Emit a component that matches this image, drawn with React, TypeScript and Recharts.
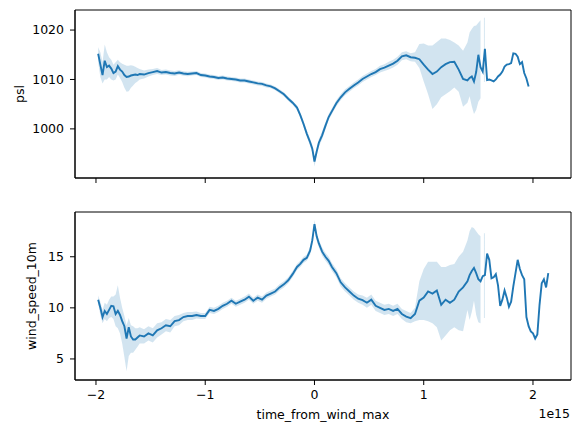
import React from 'react';
import { ComposedChart, Line, Area, XAxis, YAxis, CartesianGrid } from 'recharts';

// time_from_wind_max (in units of 1e15)
const timeSteps = [
  -1.98, -1.96, -1.94, -1.92, -1.9, -1.88, -1.86, -1.84, -1.82, -1.8, -1.78, -1.76, -1.74, -1.72, -1.7, -1.68, -1.66, -1.64, -1.62, -1.6,
  -1.56, -1.52, -1.48, -1.44, -1.4, -1.36, -1.32, -1.28, -1.24, -1.2, -1.16, -1.12, -1.08, -1.04, -1.0, -0.96, -0.92, -0.88, -0.84, -0.8,
  -0.76, -0.72, -0.68, -0.64, -0.6, -0.56, -0.52, -0.48, -0.44, -0.4, -0.36, -0.32, -0.28, -0.24, -0.2, -0.16,
  -0.13, -0.1, -0.07, -0.04, -0.02, 0, 0.02, 0.04, 0.07, 0.1, 0.13,
  0.16, 0.2, 0.24, 0.28, 0.32, 0.36, 0.4, 0.44, 0.48, 0.52, 0.56, 0.6, 0.64, 0.68, 0.72, 0.76, 0.8, 0.84, 0.88, 0.92, 0.96, 1.0,
  1.04, 1.08, 1.12, 1.16, 1.2, 1.24, 1.28, 1.32, 1.36, 1.4,
  1.42, 1.44, 1.46, 1.48, 1.5, 1.52, 1.54, 1.56, 1.58, 1.6, 1.62, 1.64, 1.66, 1.68, 1.7, 1.72, 1.74, 1.76, 1.78, 1.8,
  1.82, 1.84, 1.86, 1.88, 1.9, 1.92, 1.94, 1.96, 1.98, 2.0, 2.02, 2.04, 2.06, 2.08, 2.1, 2.12, 2.14,
];

const pslMean = [
  1015.2, 1013.0, 1010.9, 1013.8, 1012.5, 1012.8, 1012.2, 1011.3, 1011.6, 1012.7, 1012.0, 1011.6, 1010.9, 1010.5, 1010.6, 1010.8, 1010.9, 1011.0, 1010.9, 1011.1,
  1011.0, 1011.3, 1011.5, 1011.7, 1011.4, 1011.5, 1011.3, 1011.2, 1011.4, 1011.2, 1011.1, 1011.2, 1011.3, 1010.9, 1010.8, 1010.6, 1010.5, 1010.3, 1010.4, 1010.2,
  1010.1, 1010.0, 1009.8, 1009.8, 1009.6, 1009.4, 1009.2, 1009.1, 1008.8, 1008.6, 1008.2, 1007.6, 1007.0, 1006.1, 1005.3, 1004.3,
  1002.8, 1001.0, 999.0, 997.3, 996.0, 993.4, 995.4, 997.2, 998.7, 1000.6, 1002.4,
  1003.6, 1005.2, 1006.4, 1007.4, 1008.1, 1008.8, 1009.4, 1010.1, 1010.6, 1011.1, 1011.5, 1012.1, 1012.4, 1012.8, 1013.2, 1013.8, 1014.7, 1014.9, 1014.5, 1014.4, 1014.1, 1013.0,
  1012.0, 1011.1, 1011.6, 1012.5, 1013.1, 1013.5, 1013.6, 1012.0, 1010.1, 1009.8,
  1010.3, 1010.6, 1009.6, 1011.5, 1015.0, 1012.5, 1011.6, 1016.2, 1009.9, 1010.0, 1009.8, 1009.6, 1010.0, 1010.6, 1011.0, 1011.6, 1012.6, 1013.0, 1013.1, 1013.3,
  1015.3, 1015.2, 1014.6, 1013.1, 1013.5, 1011.3, 1010.2, 1008.6, null, null, null, null, null, null, null, null, null,
];

const pslLow = [
  1013.5, 1010.5, 1009.2, 1010.0, 1010.0, 1010.5, 1010.0, 1009.8, 1010.0, 1011.0, 1010.3, 1009.5, 1008.3, 1007.5, 1007.6, 1008.3, 1008.8, 1009.3, 1009.6, 1010.0,
  1010.2, 1010.6, 1010.9, 1011.1, 1010.9, 1011.0, 1010.8, 1010.7, 1010.95, 1010.75, 1010.65, 1010.8, 1010.9, 1010.5, 1010.4, 1010.2, 1010.1, 1009.9, 1010.0, 1009.8,
  1009.7, 1009.6, 1009.4, 1009.4, 1009.2, 1009.0, 1008.8, 1008.7, 1008.4, 1008.2, 1007.8, 1007.2, 1006.6, 1005.7, 1004.9, 1003.8,
  1002.3, 1000.4, 998.4, 996.6, 995.2, 992.4, 994.6, 996.4, 997.9, 999.9, 1001.8,
  1003.0, 1004.6, 1005.8, 1006.8, 1007.5, 1008.2, 1008.8, 1009.5, 1010.0, 1010.5, 1010.9, 1011.4, 1011.7, 1012.0, 1012.4, 1013.0, 1013.9, 1014.1, 1013.7, 1013.6, 1012.3, 1009.6,
  1007.0, 1004.0, 1005.0, 1006.4, 1007.0, 1007.6, 1008.4, 1007.5, 1004.5, 1005.3,
  1006.6, 1004.6, 1003.0, 1003.8, 1005.5, 1006.2, null, null, null, null, null, null, null, null, null, null, null, null, null, null,
  null, null, null, null, null, null, null, null, null, null, null, null, null, null, null, null, null,
];

const pslHigh = [
  1016.5, 1015.5, 1013.5, 1017.1, 1015.5, 1014.5, 1014.0, 1013.0, 1013.5, 1014.0, 1013.5, 1013.2, 1013.0, 1012.8, 1012.8, 1012.9, 1012.8, 1012.6, 1012.3, 1012.1,
  1011.8, 1012.0, 1012.1, 1012.3, 1011.9, 1012.0, 1011.8, 1011.7, 1011.85, 1011.65, 1011.55, 1011.6, 1011.7, 1011.3, 1011.2, 1011.0, 1010.9, 1010.7, 1010.8, 1010.6,
  1010.5, 1010.4, 1010.2, 1010.2, 1010.0, 1009.8, 1009.6, 1009.5, 1009.2, 1009.0, 1008.6, 1008.0, 1007.4, 1006.5, 1005.7, 1004.8,
  1003.3, 1001.6, 999.6, 998.0, 996.8, 994.4, 996.2, 997.9, 999.5, 1001.3, 1003.0,
  1004.2, 1005.8, 1007.0, 1008.0, 1008.7, 1009.4, 1010.0, 1010.7, 1011.2, 1011.7, 1012.1, 1012.8, 1013.1, 1013.6, 1014.0, 1014.6, 1015.5, 1015.7, 1015.3, 1015.5, 1017.2, 1017.3,
  1016.9, 1016.9, 1017.6, 1018.3, 1018.3, 1018.0, 1017.5, 1016.9, 1015.8, 1017.5,
  1019.5, 1020.2, 1020.8, 1020.9, 1021.5, 1022.0, null, null, null, null, null, null, null, null, null, null, null, null, null, null,
  null, null, null, null, null, null, null, null, null, null, null, null, null, null, null, null, null,
];

const windMean = [
  10.8, 10.0, 9.1, 9.7, 9.4, 9.8, 10.2, 10.15, 9.4, 9.7, 9.3, 8.7, 8.2, 7.0, 8.1, 7.2, 6.9, 6.9, 7.1, 7.3,
  7.2, 7.5, 7.3, 7.8, 8.0, 8.3, 8.2, 8.7, 8.8, 9.1, 9.2, 9.2, 9.3, 9.2, 9.2, 9.8, 9.7, 9.9, 10.2, 10.4,
  10.7, 10.4, 10.6, 10.8, 11.1, 10.7, 11.0, 10.8, 11.2, 11.4, 11.6, 12.0, 12.3, 12.7, 13.3, 14.0,
  14.3, 14.7, 14.9, 15.6, 16.6, 18.2, 17.0, 16.3, 15.5, 15.0, 14.6,
  14.0, 13.4, 12.5, 12.0, 11.6, 11.2, 10.9, 10.75, 10.5, 10.8, 10.2, 10.0, 9.8, 9.9, 9.7, 9.9, 9.4, 9.15, 9.0, 9.4, 10.7, 11.0,
  11.6, 11.4, 11.7, 10.3, 10.8, 10.5, 10.8, 11.6, 12.0, 12.6,
  13.2, 13.6, 13.9, 13.4, 12.8, 12.6, 13.1, 13.2, 15.3, 14.7, 12.9, 13.0, 13.3, 12.2, 10.2, 10.8, 11.7, 11.0, 10.1, 10.6,
  12.1, 13.4, 14.7, 13.8, 13.2, 12.8, 9.1, 8.2, 7.7, 7.5, 7.0, 7.4, 10.3, 12.4, 12.8, 12.0, 13.4,
];

const windLow = [
  10.4, 9.3, 8.5, 8.9, 8.7, 9.0, 9.1, 8.9, 8.2, 8.0, 7.5, 6.5, 5.2, 3.8, 5.3, 5.6, 5.6, 5.9, 6.2, 6.5,
  6.5, 6.8, 6.6, 7.1, 7.4, 7.7, 7.6, 8.2, 8.3, 8.7, 8.8, 8.8, 8.95, 8.9, 8.9, 9.5, 9.4, 9.6, 9.9, 10.1,
  10.4, 10.1, 10.3, 10.5, 10.8, 10.4, 10.7, 10.5, 10.9, 11.1, 11.3, 11.7, 12.0, 12.4, 13.0, 13.7,
  14.0, 14.4, 14.6, 15.2, 16.2, 17.8, 16.6, 15.9, 15.1, 14.6, 14.2,
  13.6, 13.0, 12.1, 11.6, 11.2, 10.8, 10.5, 10.3, 10.0, 10.3, 9.7, 9.5, 9.3, 9.4, 9.2, 9.4, 8.9, 8.6, 8.5, 8.7, 8.8, 8.8,
  8.7, 8.5, 8.1, 6.8, 7.3, 7.8, 8.1, 7.8, 7.7, 9.8,
  8.8, 9.6, 10.7, 9.3, 8.6, 8.5, null, null, null, null, null, null, null, null, null, null, null, null, null, null,
  null, null, null, null, null, null, null, null, null, null, null, null, null, null, null, null, null,
];

const windHigh = [
  11.2, 10.6, 9.8, 10.5, 10.3, 10.8, 11.1, 11.1, 11.3, 12.2, 11.0, 10.0, 9.2, 8.3, 9.0, 8.3, 8.2, 8.0, 8.0, 8.1,
  7.9, 8.2, 8.0, 8.5, 8.6, 8.9, 8.8, 9.2, 9.3, 9.5, 9.6, 9.6, 9.65, 9.5, 9.5, 10.1, 10.0, 10.2, 10.5, 10.7,
  11.0, 10.7, 10.9, 11.1, 11.4, 11.0, 11.3, 11.1, 11.5, 11.7, 11.9, 12.3, 12.6, 13.0, 13.6, 14.3,
  14.6, 15.0, 15.2, 16.0, 17.0, 18.6, 17.4, 16.7, 15.9, 15.4, 15.0,
  14.4, 13.8, 12.9, 12.4, 12.0, 11.6, 11.3, 11.2, 11.0, 11.3, 10.7, 10.5, 10.3, 10.4, 10.2, 10.4, 9.9, 9.7, 9.5, 10.0, 12.6, 13.8,
  14.5, 14.5, 14.5, 14.0, 14.0, 14.2, 14.3, 15.0, 15.5, 16.6,
  17.5, 17.9, 17.8, 17.5, 17.2, 17.0, null, null, null, null, null, null, null, null, null, null, null, null, null, null,
  null, null, null, null, null, null, null, null, null, null, null, null, null, null, null, null, null,
];

// isolated narrow confidence interval near t = 1.555
const spikeTimes = [1.551, 1.559];
const pslSpikeRange = [1009.5, 1022.5];
const windSpikeRange = [9.0, 17.3];

const xTicks = [-2, -1, 0, 1, 2];
const pslTicks = [1000, 1010, 1020];
const windTicks = [5, 10, 15];

const X_DOMAIN: [number, number] = [-2.192, 2.348];
const PSL_DOMAIN: [number, number] = [990.06, 1024.06];
const WIND_DOMAIN: [number, number] = [2.94, 19.38];

const BLUE = '#1f77b4';
const FONT = 'DejaVu Sans, sans-serif';

type Row = {
  t: number;
  psl?: number | null;
  pslBand?: [number, number] | null;
  wind?: number | null;
  windBand?: [number, number] | null;
};

const rows: Row[] = timeSteps.map((t, i) => ({
  t,
  psl: pslMean[i],
  pslBand: pslLow[i] != null && pslHigh[i] != null ? [pslLow[i] as number, pslHigh[i] as number] : null,
  wind: windMean[i],
  windBand: windLow[i] != null && windHigh[i] != null ? [windLow[i] as number, windHigh[i] as number] : null,
}));
spikeTimes.forEach((t) => {
  rows.push({
    t,
    psl: undefined,
    pslBand: [pslSpikeRange[0], pslSpikeRange[1]],
    wind: undefined,
    windBand: [windSpikeRange[0], windSpikeRange[1]],
  });
});
rows.sort((a, b) => a.t - b.t);

const fmtX = (v: number) => (v < 0 ? '\u2212' + Math.abs(v) : String(v));
const tickStyle = { fill: '#000', fontSize: 12.5, fontFamily: FONT };
const axisLine = { stroke: '#000', strokeWidth: 1 };

// frame (matplotlib box): lines at the plot area's edges
const frameH = (p: any) => [p.offset.top, p.offset.top + p.offset.height];
const frameV = (p: any) => [p.offset.left, p.offset.left + p.offset.width];

function Panel(props: {
  meanKey: 'psl' | 'wind';
  bandKey: 'pslBand' | 'windBand';
  yDomain: [number, number];
  yTicks: number[];
  showXLabels: boolean;
  height: number;
  xAxisHeight: number;
}) {
  const { meanKey, bandKey, yDomain, yTicks, showXLabels, height, xAxisHeight } = props;
  return (
    <ComposedChart
      width={580}
      height={height}
      data={rows}
      margin={{ top: 10, right: 9, bottom: 0, left: 0 }}
    >
      <CartesianGrid
        stroke="#000"
        strokeOpacity={1}
        strokeWidth={1}
        fill="none"
        horizontalCoordinatesGenerator={frameH}
        verticalCoordinatesGenerator={frameV}
      />
      <XAxis
        dataKey="t"
        type="number"
        domain={X_DOMAIN}
        allowDataOverflow
        ticks={xTicks}
        interval={0}
        tickFormatter={showXLabels ? fmtX : () => ''}
        tickSize={5}
        tickMargin={5}
        height={xAxisHeight}
        axisLine={axisLine}
        tickLine={axisLine}
        tick={tickStyle}
      />
      <YAxis
        type="number"
        domain={yDomain}
        allowDataOverflow
        ticks={yTicks}
        interval={0}
        width={75}
        tickSize={5}
        tickMargin={6}
        axisLine={axisLine}
        tickLine={axisLine}
        tick={tickStyle}
      />
      <Area
        type="linear"
        dataKey={(d: Row) => d[bandKey] ?? null}
        stroke="none"
        fill={BLUE}
        fillOpacity={0.2}
        isAnimationActive={false}
        connectNulls={false}
        activeDot={false}
        dot={false}
      />
      <Line
        type="linear"
        dataKey={meanKey}
        stroke={BLUE}
        strokeWidth={1.9}
        dot={false}
        activeDot={false}
        connectNulls
        isAnimationActive={false}
      />
    </ComposedChart>
  );
}

const labelBase: React.CSSProperties = {
  position: 'absolute',
  fontSize: 12.5,
  whiteSpace: 'nowrap',
  color: '#000',
};

export default function App() {
  return (
    <div
      style={{
        position: 'absolute',
        left: 0,
        top: 0,
        width: 580,
        height: 433,
        background: '#fff',
        fontFamily: FONT,
        overflow: 'hidden',
      }}
    >
      <div style={{ position: 'absolute', left: 0, top: 0 }}>
        <Panel
          meanKey="psl"
          bandKey="pslBand"
          yDomain={PSL_DOMAIN}
          yTicks={pslTicks}
          showXLabels={false}
          height={200}
          xAxisHeight={22}
        />
      </div>
      <div style={{ position: 'absolute', left: 0, top: 202 }}>
        <Panel
          meanKey="wind"
          bandKey="windBand"
          yDomain={WIND_DOMAIN}
          yTicks={windTicks}
          showXLabels
          height={231}
          xAxisHeight={53}
        />
      </div>
      <div style={{ ...labelBase, left: 19, top: 94, transform: 'translate(-50%, -50%) rotate(-90deg)' }}>psl</div>
      <div style={{ ...labelBase, left: 31, top: 296, transform: 'translate(-50%, -50%) rotate(-90deg)' }}>
        wind_speed_10m
      </div>
      <div style={{ ...labelBase, left: 323, top: 414, transform: 'translate(-50%, -50%)' }}>time_from_wind_max</div>
      <div style={{ ...labelBase, right: 10, top: 413, transform: 'translateY(-50%)' }}>1e15</div>
    </div>
  );
}
